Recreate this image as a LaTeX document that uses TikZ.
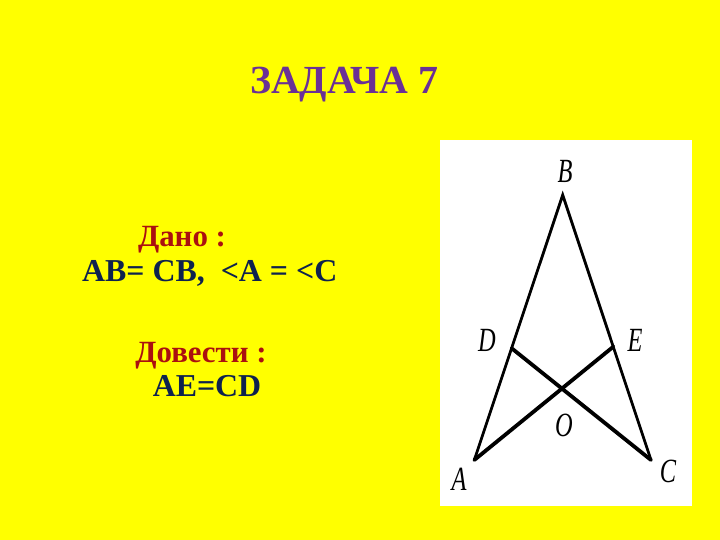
\documentclass[tikz,border=0pt]{standalone}
\usepackage{fontspec}
\setmainfont{Liberation Serif}
\begin{document}
\begin{tikzpicture}[x=1bp,y=-1bp,
  ttl/.style={font=\fontsize{40}{44}\selectfont\bfseries, text=titlec, inner sep=0},
  red/.style={font=\fontsize{31}{34}\selectfont\bfseries, text=redc, inner sep=0},
  navy/.style={font=\fontsize{32}{35}\selectfont\bfseries, text=navyc, inner sep=0},
  lbl/.style={font=\fontsize{34}{36}\selectfont\itshape, inner sep=0},
  side/.style={line width=2.8bp, line cap=round},
  seg/.style={line width=3.8bp, line cap=round}]
\definecolor{titlec}{RGB}{106,48,150}
\definecolor{redc}{RGB}{170,16,16}
\definecolor{navyc}{RGB}{14,34,78}
\definecolor{bgy}{RGB}{255,255,0}
\useasboundingbox (0,0) rectangle (720,540);
\fill[bgy] (0,0) rectangle (720,540);
\node[ttl, anchor=base] (title) at (344,94) {ЗАДАЧА 7};
\node[red, anchor=base] (dano) at (182,247) {Дано :};
\node[navy, anchor=base west] (given) at (82,282) {AB= CB,\ \ <A = <C};
\node[red, anchor=base] (dov) at (201,362) {Довести :};
\node[navy, anchor=base] (prove) at (207,396) {AE=CD};
\fill[white] (440,140) rectangle (692,506);
\coordinate (B) at (562.7,195);
\coordinate (D) at (511.7,348.3);
\coordinate (E) at (613.3,346.7);
\coordinate (A) at (474.3,460);
\coordinate (C) at (651,460);
\draw[side] (A) -- (B) -- (C);
\draw[seg] (D) -- (C);
\draw[seg] (A) -- (E);
\node[lbl, anchor=center] (lB) at (565,171) {\scalebox{0.72}[1]{B}};
\node[lbl, anchor=center] (lD) at (487,340) {\scalebox{0.72}[1]{D}};
\node[lbl, anchor=center] (lE) at (635,340) {\scalebox{0.72}[1]{E}};
\node[lbl, anchor=center] (lO) at (564,425) {\scalebox{0.72}[1]{O}};
\node[lbl, anchor=center] (lA) at (459,479) {\scalebox{0.72}[1]{A}};
\node[lbl, anchor=center] (lC) at (668,471) {\scalebox{0.72}[1]{C}};
\end{tikzpicture}
\end{document}
